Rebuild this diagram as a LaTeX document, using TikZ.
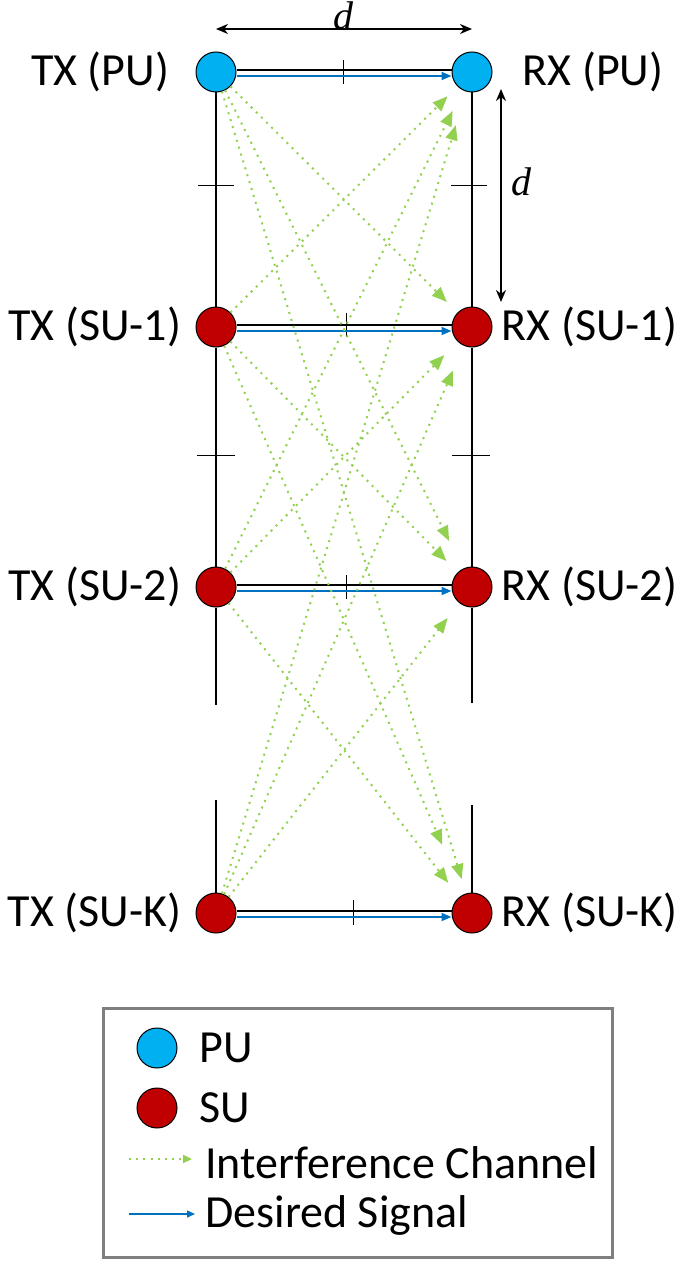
\documentclass[tikz,border=0pt]{standalone}
\usepackage{fontspec}
\setmainfont{Carlito}
\newfontfamily\dfont{Liberation Serif}
\usepackage{tikz}
\usetikzlibrary{positioning,arrows.meta}

\definecolor{publue}{HTML}{00B0F0}
\definecolor{sured}{HTML}{C00000}
\definecolor{intgreen}{HTML}{92D050}
\definecolor{sigblue}{HTML}{0070C0}
\definecolor{boxgray}{HTML}{7F7F7F}

\begin{document}
\begin{tikzpicture}[
    x=0.5pt, y=-0.5pt,
    pu/.style={circle, draw, line width=0.5pt, fill=publue, minimum size=20pt, inner sep=0pt},
    su/.style={circle, draw, line width=0.5pt, fill=sured, minimum size=20pt, inner sep=0pt},
    lbl/.style={inner sep=0pt, font=\fontsize{23}{28}\selectfont},
    link/.style={line width=0.6pt},
    vline/.style={line width=0.6pt},
    tickline/.style={line width=0.5pt},
    desired/.style={-{Triangle[length=5pt,width=4pt]}, draw=sigblue, line width=0.9pt},
    interf/.style={-{Triangle[length=7.5pt,width=6pt]}, draw=intgreen, line width=1pt, dash pattern=on 1pt off 2.6pt, shorten >=7pt},
    dim/.style={{Stealth[length=6pt,width=5pt]}-{Stealth[length=6pt,width=5pt]}, line width=1.1pt},
    dlabel/.style={inner sep=0pt, font=\dfont\itshape\fontsize{20}{24}\selectfont}
  ]
  \useasboundingbox (0,0) rectangle (682,1263);

  % Transmitters
  \node[pu] (txpu) at (216,72) {};
  \node[su] (txsu1) at (216,327) {};
  \node[su] (txsu2) at (216,587) {};
  \node[su] (txsuk) at (216,913) {};

  % Receivers
  \node[pu] (rxpu) at (472,72) {};
  \node[su] (rxsu1) at (472,327) {};
  \node[su] (rxsu2) at (472,587) {};
  \node[su] (rxsuk) at (472,913) {};

  % Labels
  \node[lbl, left=13pt of txpu] (ltxpu) {TX (PU)};
  \node[lbl, left=7pt of txsu1] (ltxsu1) {TX (SU-1)};
  \node[lbl, left=7pt of txsu2] (ltxsu2) {TX (SU-2)};
  \node[lbl, left=7pt of txsuk] (ltxsuk) {TX (SU-K)};
  \node[lbl, right=15pt of rxpu] (lrxpu) {RX (PU)};
  \node[lbl, right=4.5pt of rxsu1] (lrxsu1) {RX (SU-1)};
  \node[lbl, right=4.5pt of rxsu2] (lrxsu2) {RX (SU-2)};
  \node[lbl, right=4.5pt of rxsuk] (lrxsuk) {RX (SU-K)};

  % Vertical lines with a break
  \coordinate (txgap1) at (216,705);
  \coordinate (txgap2) at (216,800);
  \coordinate (rxgap1) at (472,703);
  \coordinate (rxgap2) at (472,805);
  \draw[vline] (txpu) -- (txsu1) -- (txsu2) -- (txgap1);
  \draw[vline] (txgap2) -- (txsuk);
  \draw[vline] (rxpu) -- (rxsu1) -- (rxsu2) -- (rxgap1);
  \draw[vline] (rxgap2) -- (rxsuk);

  % Tick marks
  \draw[tickline] (198,185) -- (234,185);
  \draw[tickline] (451,185) -- (487,185);
  \draw[tickline] (197,455) -- (235,455);
  \draw[tickline] (452,455) -- (490,455);
  \draw[tickline] (343,60) -- (343,84);
  \draw[tickline] (346,313) -- (346,337);
  \draw[tickline] (346,575) -- (346,599);
  \draw[tickline] (353,900) -- (353,925);

  % Direct links
  \draw[link] ([yshift=1pt]txpu.east) -- ([yshift=1pt]rxpu.west);
  \draw[link] ([yshift=1pt]txsu1.east) -- ([yshift=1pt]rxsu1.west);
  \draw[link] ([yshift=1pt]txsu2.east) -- ([yshift=1pt]rxsu2.west);
  \draw[link] ([yshift=1pt]txsuk.east) -- ([yshift=1pt]rxsuk.west);
  \draw[desired] ([yshift=-2pt]txpu.east) -- ([yshift=-2pt]rxpu.west);
  \draw[desired] ([yshift=-2pt]txsu1.east) -- ([yshift=-2pt]rxsu1.west);
  \draw[desired] ([yshift=-2pt]txsu2.east) -- ([yshift=-2pt]rxsu2.west);
  \draw[desired] ([yshift=-2pt]txsuk.east) -- ([yshift=-2pt]rxsuk.west);

  % Interference channels
  \draw[interf, shorten >=7.5pt] (txpu) -- (rxsu1);
  \draw[interf, shorten >=15.5pt] (txpu) -- (rxsu2);
  \draw[interf, shorten >=7.5pt] (txpu) -- (rxsuk);
  \draw[interf, shorten >=7pt] (txsu1) -- (rxpu);
  \draw[interf, shorten >=8pt] (txsu1) -- (rxsu2);
  \draw[interf, shorten >=27pt] (txsu1) -- (rxsuk);
  \draw[interf, shorten >=11.5pt] (txsu2) -- (rxpu);
  \draw[interf, shorten >=9.5pt] (txsu2) -- (rxsu1);
  \draw[interf, shorten >=9pt] (txsu2) -- (rxsuk);
  \draw[interf, shorten >=17.5pt] (txsuk) -- (rxpu);
  \draw[interf, shorten >=13.5pt] (txsuk) -- (rxsu1);
  \draw[interf, shorten >=9.5pt] (txsuk) -- (rxsu2);

  % Distances
  \coordinate (dimtop) at (343,29);
  \draw[dim] (txpu |- dimtop) -- (rxpu |- dimtop);
  \node[dlabel] (dtop) at (343,16) {d};
  \coordinate (dimsidetop) at (501,89);
  \coordinate (dimsidebot) at (501,302);
  \draw[dim] (dimsidetop) -- (dimsidebot);
  \node[dlabel] (dside) at (521,182) {d};

  % Legend
  \node[draw=boxgray, line width=1.5pt, minimum width=254.5pt, minimum height=124.5pt] (legend) at (357.5,1132.5) {};
  \node[pu] (legpu) at (157,1048) {};
  \node[lbl, anchor=west] (legputxt) at (199,1048) {PU};
  \node[su] (legsu) at (157,1108) {};
  \node[lbl, anchor=west] (legsutxt) at (199,1108) {SU};
  \coordinate (legia) at (129,1159);
  \coordinate (legib) at (192,1159);
  \draw[interf, shorten >=0pt, -{Triangle[length=4.5pt,width=4pt]}] (legia) -- (legib);
  \node[lbl, anchor=west] (legitxt) at (205,1163) {Interference Channel};
  \coordinate (legda) at (129,1214);
  \coordinate (legdb) at (195,1214);
  \draw[desired, line width=0.7pt, -{Triangle[length=4pt,width=3.5pt]}] (legda) -- (legdb);
  \node[lbl, anchor=west] (legdtxt) at (205,1215) {Desired Signal};
\end{tikzpicture}
\end{document}
